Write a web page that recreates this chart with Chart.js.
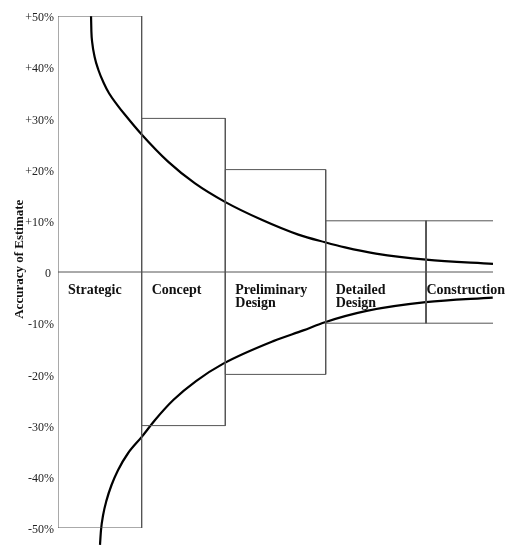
<!DOCTYPE html>
<html>
<head>
<meta charset="utf-8">
<script src="https://cdn.jsdelivr.net/npm/chart.js@4/dist/chart.umd.min.js"></script>
<style>
  html, body { margin: 0; padding: 0; background: #fff; }
</style>
</head>
<body>
<canvas id="accuracyChart" width="506" height="545"></canvas>
<script>
// Project phases, their edges along the timeline and the +/- accuracy range of each box
var phases = ['Strategic', 'Concept', 'Preliminary\nDesign', 'Detailed\nDesign', 'Construction'];
var phaseEdges = [0, 1, 2, 3.2, 4.4, 5.2];
var phaseRange = [50, 30, 20, 10, 10];

// Upper and lower accuracy curves
var upperX = [0.395, 0.399, 0.410, 0.438, 0.482, 0.544, 0.610, 0.705, 0.801, 0.992, 1.319, 1.638, 1.996, 2.435, 2.873, 3.192, 3.431, 3.800, 4.400, 5.200];
var upperY = [50.0, 47.0, 44.7, 42.0, 39.5, 37.0, 34.9, 32.7, 30.7, 27.0, 21.5, 17.3, 13.7, 10.2, 7.3, 5.8, 4.8, 3.6, 2.4, 1.6];
var lowerX = [0.502, 0.514, 0.540, 0.580, 0.640, 0.717, 0.837, 1.001, 1.160, 1.378, 1.650, 1.976, 2.574, 2.932, 3.192, 3.690, 4.396, 5.197];
var lowerY = [-53.3, -50.4, -47.4, -44.6, -41.6, -38.7, -35.4, -32.2, -28.9, -25.0, -21.3, -17.9, -13.5, -11.4, -9.8, -7.6, -5.9, -5.0];

// Y axis ticks
var yTicks = [50, 40, 30, 20, 10, 0, -10, -20, -30, -40, -50];
var yTitle = 'Accuracy of Estimate';

function toPoints(xs, ys) {
  return xs.map(function (x, i) { return { x: x, y: ys[i] }; });
}

// One outline per phase box (the last one is open on the right)
function boxPoints(i) {
  var x0 = phaseEdges[i], x1 = phaseEdges[i + 1], h = phaseRange[i];
  if (i === phases.length - 1) {
    return [{ x: x1, y: h }, { x: x0, y: h }, { x: x0, y: -h }, { x: x1, y: -h }];
  }
  return [{ x: x0, y: h }, { x: x1, y: h }, { x: x1, y: -h }, { x: x0, y: -h }, { x: x0, y: h }];
}

var datasets = [];
phases.forEach(function (p, i) {
  datasets.push({
    data: boxPoints(i),
    borderColor: '#555',
    borderWidth: 1,
    pointRadius: 0,
    tension: 0,
    fill: false
  });
});

// zero line
datasets.push({
  data: [{ x: phaseEdges[0], y: 0 }, { x: phaseEdges[phaseEdges.length - 1], y: 0 }],
  borderColor: '#555',
  borderWidth: 1,
  pointRadius: 0,
  fill: false
});

[toPoints(upperX, upperY), toPoints(lowerX, lowerY)].forEach(function (pts) {
  datasets.push({
    data: pts,
    borderColor: '#000',
    borderWidth: 2.2,
    pointRadius: 0,
    cubicInterpolationMode: 'monotone',
    fill: false,
    clip: false
  });
});

// Phase names under the zero line + the rotated y title
var textLayer = {
  id: 'textLayer',
  afterDatasetsDraw: function (chart) {
    var ctx = chart.ctx;
    var xs = chart.scales.x, ys = chart.scales.y;
    ctx.save();
    ctx.font = 'bold 14px "Liberation Serif", "DejaVu Serif", serif';
    ctx.fillStyle = '#111';
    ctx.textBaseline = 'top';
    ctx.textAlign = 'left';
    var y0 = ys.getPixelForValue(0) + 11;
    phases.forEach(function (p, i) {
      var lines = p.split('\n');
      var w = Math.max.apply(null, lines.map(function (l) { return ctx.measureText(l).width; }));
      var x = Math.min(xs.getPixelForValue(phaseEdges[i]) + 10, chart.width - 1 - w);
      lines.forEach(function (l, k) {
        ctx.fillText(l, x, y0 + k * 13);
      });
    });

    // y title, sits a little above the middle of the axis
    ctx.font = 'bold 13px "Liberation Serif", "DejaVu Serif", serif';
    ctx.textAlign = 'center';
    ctx.textBaseline = 'middle';
    ctx.translate(20, ys.getPixelForValue(2.5));
    ctx.rotate(-Math.PI / 2);
    ctx.fillText(yTitle, 0, 0);
    ctx.restore();
  }
};

new Chart(document.getElementById('accuracyChart').getContext('2d'), {
  type: 'line',
  data: { datasets: datasets },
  options: {
    responsive: false,
    animation: false,
    layout: { padding: { top: 16, right: 13, bottom: 17, left: 0 } },
    plugins: { legend: { display: false }, tooltip: { enabled: false } },
    scales: {
      x: {
        type: 'linear',
        min: phaseEdges[0],
        max: phaseEdges[phaseEdges.length - 1],
        display: false
      },
      y: {
        type: 'linear',
        min: -50,
        max: 50,
        afterBuildTicks: function (scale) {
          scale.ticks = yTicks.map(function (v) { return { value: v }; });
        },
        afterFit: function (scale) {
          scale.width = 58;
        },
        grid: { display: false, drawTicks: false },
        border: { display: false },
        ticks: {
          padding: 4,
          labelOffset: 2,
          color: '#222',
          font: { family: '"Liberation Serif", "DejaVu Serif", serif', size: 12 },
          callback: function (v) {
            if (v > 0) return '+' + v + '%';
            if (v === 0) return '0 ';
            return v + '%';
          }
        }
      }
    }
  },
  plugins: [textLayer]
});
</script>
</body>
</html>
